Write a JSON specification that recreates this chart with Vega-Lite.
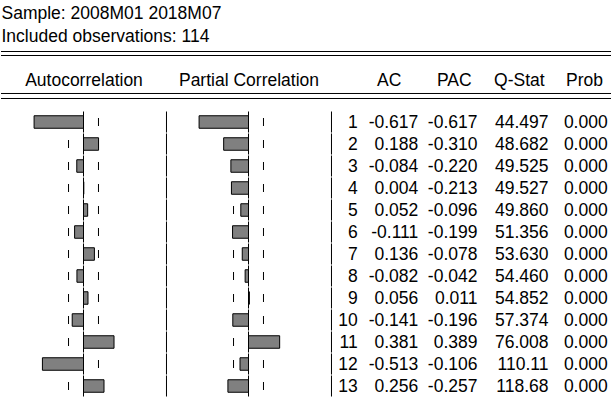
{
  "$schema": "https://vega.github.io/schema/vega-lite/v6.json",
  "padding": {"left": 0, "top": 4, "right": 0, "bottom": 0},
  "bounds": "flush",
  "spacing": 0,
  "title": {
    "text": ["Sample: 2008M01 2018M07", "Included observations: 114"],
    "anchor": "start",
    "font": "Liberation Sans",
    "fontSize": 17.5,
    "fontWeight": "normal",
    "color": "#000000",
    "lineHeight": 23,
    "offset": 6,
    "dx": 1
  },
  "data": {
    "values": [
      {"lag": 1, "ac": -0.617, "pac": -0.617, "q": 44.497, "prob": 0.000},
      {"lag": 2, "ac": 0.188, "pac": -0.310, "q": 48.682, "prob": 0.000},
      {"lag": 3, "ac": -0.084, "pac": -0.220, "q": 49.525, "prob": 0.000},
      {"lag": 4, "ac": 0.004, "pac": -0.213, "q": 49.527, "prob": 0.000},
      {"lag": 5, "ac": 0.052, "pac": -0.096, "q": 49.860, "prob": 0.000},
      {"lag": 6, "ac": -0.111, "pac": -0.199, "q": 51.356, "prob": 0.000},
      {"lag": 7, "ac": 0.136, "pac": -0.078, "q": 53.630, "prob": 0.000},
      {"lag": 8, "ac": -0.082, "pac": -0.042, "q": 54.460, "prob": 0.000},
      {"lag": 9, "ac": 0.056, "pac": 0.011, "q": 54.852, "prob": 0.000},
      {"lag": 10, "ac": -0.141, "pac": -0.196, "q": 57.374, "prob": 0.000},
      {"lag": 11, "ac": 0.381, "pac": 0.389, "q": 76.008, "prob": 0.000},
      {"lag": 12, "ac": -0.513, "pac": -0.106, "q": 110.11, "prob": 0.000},
      {"lag": 13, "ac": 0.256, "pac": -0.257, "q": 118.68, "prob": 0.000}
    ]
  },
  "hconcat": [
    {
      "width": 165,
      "height": 286,
      "layer": [
        {
          "mark": {"type": "tick", "orient": "vertical", "size": 21, "thickness": 1, "color": "#000000", "opacity": 1},
          "encoding": {
            "x": {"datum": 0, "type": "quantitative", "scale": {"domain": [-1.03, 1.03], "nice": false, "zero": false, "padding": 0},
                  "axis": {"orient": "top", "labels": false, "ticks": false, "domain": false, "grid": false, "title": "Autocorrelation", "titlePadding": 26, "titleBaseline": "alphabetic"}},
            "y": {"field": "lag", "type": "quantitative", "scale": {"domain": [0.5, 13.5], "reverse": true, "nice": false, "zero": false, "padding": 0}, "axis": null}
          }
        },
        {
          "mark": {"type": "tick", "orient": "vertical", "size": 8, "thickness": 1, "color": "#000000", "opacity": 1},
          "encoding": {
            "x": {"datum": 0.187, "type": "quantitative"},
            "y": {"field": "lag", "type": "quantitative"}
          }
        },
        {
          "mark": {"type": "tick", "orient": "vertical", "size": 8, "thickness": 1, "color": "#000000", "opacity": 1},
          "encoding": {
            "x": {"datum": -0.187, "type": "quantitative"},
            "y": {"field": "lag", "type": "quantitative"}
          }
        },
        {
          "mark": {"type": "bar", "orient": "horizontal", "size": 12.5, "fill": "#808080", "stroke": "#000000", "strokeWidth": 1},
          "encoding": {
            "x": {"field": "ac", "type": "quantitative"},
            "x2": {"datum": 0},
            "y": {"field": "lag", "type": "quantitative"}
          }
        },
        {
          "data": {"values": [{}]},
          "mark": {"type": "rule", "color": "#000000", "strokeWidth": 1},
          "encoding": {"y": {"datum": -2.2045, "type": "quantitative"}}
        },
        {
          "data": {"values": [{}]},
          "mark": {"type": "rule", "color": "#000000", "strokeWidth": 1},
          "encoding": {"y": {"datum": -2.0227, "type": "quantitative"}}
        },
        {
          "data": {"values": [{}]},
          "mark": {"type": "rule", "color": "#000000", "strokeWidth": 1},
          "encoding": {"y": {"datum": -0.2955, "type": "quantitative"}}
        },
        {
          "data": {"values": [{}]},
          "mark": {"type": "rule", "color": "#000000", "strokeWidth": 1},
          "encoding": {"y": {"datum": -0.0682, "type": "quantitative"}}
        }
      ]
    },
    {
      "width": 165,
      "height": 286,
      "layer": [
        {
          "mark": {"type": "tick", "orient": "vertical", "size": 21, "thickness": 1, "color": "#000000", "opacity": 1},
          "encoding": {
            "x": {"datum": 0, "type": "quantitative", "scale": {"domain": [-1.03, 1.03], "nice": false, "zero": false, "padding": 0},
                  "axis": {"orient": "top", "labels": false, "ticks": false, "domain": false, "grid": false, "title": "Partial Correlation", "titlePadding": 26, "titleBaseline": "alphabetic"}},
            "y": {"field": "lag", "type": "quantitative", "scale": {"domain": [0.5, 13.5], "reverse": true, "nice": false, "zero": false, "padding": 0}, "axis": null}
          }
        },
        {
          "mark": {"type": "tick", "orient": "vertical", "size": 21, "thickness": 1, "color": "#000000", "opacity": 1},
          "encoding": {
            "x": {"datum": -1.024, "type": "quantitative"},
            "y": {"field": "lag", "type": "quantitative"}
          }
        },
        {
          "mark": {"type": "tick", "orient": "vertical", "size": 21, "thickness": 1, "color": "#000000", "opacity": 1},
          "encoding": {
            "x": {"datum": 1.036, "type": "quantitative"},
            "y": {"field": "lag", "type": "quantitative"}
          }
        },
        {
          "mark": {"type": "tick", "orient": "vertical", "size": 8, "thickness": 1, "color": "#000000", "opacity": 1},
          "encoding": {
            "x": {"datum": 0.187, "type": "quantitative"},
            "y": {"field": "lag", "type": "quantitative"}
          }
        },
        {
          "mark": {"type": "tick", "orient": "vertical", "size": 8, "thickness": 1, "color": "#000000", "opacity": 1},
          "encoding": {
            "x": {"datum": -0.187, "type": "quantitative"},
            "y": {"field": "lag", "type": "quantitative"}
          }
        },
        {
          "mark": {"type": "bar", "orient": "horizontal", "size": 12.5, "fill": "#808080", "stroke": "#000000", "strokeWidth": 1},
          "encoding": {
            "x": {"field": "pac", "type": "quantitative"},
            "x2": {"datum": 0},
            "y": {"field": "lag", "type": "quantitative"}
          }
        },
        {
          "data": {"values": [{}]},
          "mark": {"type": "rule", "color": "#000000", "strokeWidth": 1},
          "encoding": {"y": {"datum": -2.2045, "type": "quantitative"}}
        },
        {
          "data": {"values": [{}]},
          "mark": {"type": "rule", "color": "#000000", "strokeWidth": 1},
          "encoding": {"y": {"datum": -2.0227, "type": "quantitative"}}
        },
        {
          "data": {"values": [{}]},
          "mark": {"type": "rule", "color": "#000000", "strokeWidth": 1},
          "encoding": {"y": {"datum": -0.2955, "type": "quantitative"}}
        },
        {
          "data": {"values": [{}]},
          "mark": {"type": "rule", "color": "#000000", "strokeWidth": 1},
          "encoding": {"y": {"datum": -0.0682, "type": "quantitative"}}
        }
      ]
    },
    {
      "width": 281,
      "height": 286,
      "layer": [
        {
          "mark": {"type": "text", "align": "right", "baseline": "alphabetic", "dy": 6.3, "dx": -31, "font": "Liberation Sans", "fontSize": 17.5, "color": "#000000"},
          "encoding": {
            "x": {"datum": "AC", "type": "nominal", "scale": {"type": "point", "domain": ["AC", "PAC", "Q-Stat", "Prob"], "padding": 0.658, "align": 0.673},
                  "axis": {"orient": "top", "labels": true, "ticks": false, "domain": false, "grid": false, "title": null, "labelAngle": 0, "labelPadding": 26, "labelBaseline": "alphabetic", "labelAlign": "center"}},
            "y": {"field": "lag", "type": "quantitative", "scale": {"domain": [0.5, 13.5], "reverse": true, "nice": false, "zero": false, "padding": 0}, "axis": null},
            "text": {"field": "lag", "type": "quantitative", "format": "d"}
          }
        },
        {
          "mark": {"type": "text", "align": "right", "baseline": "alphabetic", "dy": 6.3, "dx": 29.6, "font": "Liberation Sans", "fontSize": 17.5, "color": "#000000"},
          "encoding": {
            "x": {"datum": "AC", "type": "nominal"},
            "y": {"field": "lag", "type": "quantitative"},
            "text": {"field": "ac", "type": "quantitative", "format": ".3f"}
          }
        },
        {
          "mark": {"type": "text", "align": "right", "baseline": "alphabetic", "dy": 6.3, "dx": 23.7, "font": "Liberation Sans", "fontSize": 17.5, "color": "#000000"},
          "encoding": {
            "x": {"datum": "PAC", "type": "nominal"},
            "y": {"field": "lag", "type": "quantitative"},
            "text": {"field": "pac", "type": "quantitative", "format": ".3f"}
          }
        },
        {
          "mark": {"type": "text", "align": "right", "baseline": "alphabetic", "dy": 6.3, "dx": 29.6, "font": "Liberation Sans", "fontSize": 17.5, "color": "#000000"},
          "encoding": {
            "x": {"datum": "Q-Stat", "type": "nominal"},
            "y": {"field": "lag", "type": "quantitative"},
            "text": {"field": "q", "type": "quantitative", "format": ".5r"}
          }
        },
        {
          "mark": {"type": "text", "align": "right", "baseline": "alphabetic", "dy": 6.3, "dx": 23.7, "font": "Liberation Sans", "fontSize": 17.5, "color": "#000000"},
          "encoding": {
            "x": {"datum": "Prob", "type": "nominal"},
            "y": {"field": "lag", "type": "quantitative"},
            "text": {"field": "prob", "type": "quantitative", "format": ".3f"}
          }
        },
        {
          "data": {"values": [{}]},
          "mark": {"type": "rule", "color": "#000000", "strokeWidth": 1},
          "encoding": {"y": {"datum": -2.2045, "type": "quantitative"}}
        },
        {
          "data": {"values": [{}]},
          "mark": {"type": "rule", "color": "#000000", "strokeWidth": 1},
          "encoding": {"y": {"datum": -2.0227, "type": "quantitative"}}
        },
        {
          "data": {"values": [{}]},
          "mark": {"type": "rule", "color": "#000000", "strokeWidth": 1},
          "encoding": {"y": {"datum": -0.2955, "type": "quantitative"}}
        },
        {
          "data": {"values": [{}]},
          "mark": {"type": "rule", "color": "#000000", "strokeWidth": 1},
          "encoding": {"y": {"datum": -0.0682, "type": "quantitative"}}
        }
      ]
    }
  ],
  "config": {
    "view": {"stroke": null},
    "font": "Liberation Sans",
    "locale": {"number": {"decimal": ".", "thousands": ",", "grouping": [3], "currency": ["$", ""], "minus": "-"}},
    "axis": {
      "labelFont": "Liberation Sans",
      "titleFont": "Liberation Sans",
      "labelFontSize": 17.5,
      "titleFontSize": 17.5,
      "titleFontWeight": "normal",
      "labelColor": "#000000",
      "titleColor": "#000000",
      "tickSize": 0
    }
  }
}
